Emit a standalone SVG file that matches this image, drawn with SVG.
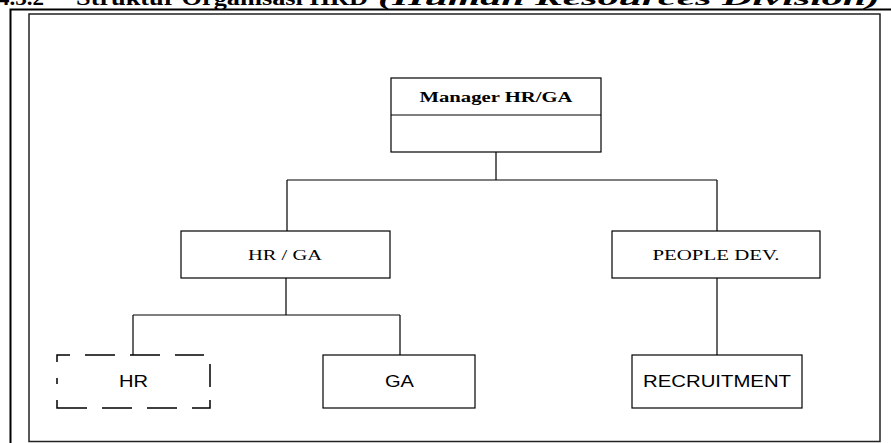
<svg xmlns="http://www.w3.org/2000/svg" width="891" height="443" viewBox="0 0 891 443">
<style>
.box{fill:#fff;stroke:#000;stroke-width:1.2}
.dash{fill:none;stroke:#000;stroke-width:1.5}
.ln{fill:none;stroke:#000;stroke-width:1.2}
.serif{font-family:"Liberation Serif",serif;fill:#000}
.sans{font-family:"Liberation Sans",Arial,sans-serif;fill:#000}
</style>
<rect width="891" height="443" fill="#fff"/>
<text class="serif" x="-2" y="5" font-size="22" font-weight="bold" textLength="46" lengthAdjust="spacingAndGlyphs">4.3.2</text>
<text class="serif" x="76" y="5" font-size="22" font-weight="bold" textLength="292" lengthAdjust="spacingAndGlyphs">Struktur Organisasi HRD</text>
<text class="serif" x="378" y="5" font-size="20" font-weight="bold" font-style="italic" textLength="502" lengthAdjust="spacingAndGlyphs">(Human Resources Division)</text>
<path d="M10.5 443 V9.5 H891" fill="none" stroke="#000" stroke-width="2"/>
<rect x="29" y="14" width="851" height="427.5" fill="none" stroke="#222" stroke-width="1.5"/>
<g id="connectors">
<path class="ln" d="M496 152 V180 M287 180 H717 M287 180 V231 M717 180 V231"/>
<path class="ln" d="M286 278 V315 M133 315 H400 M133 315 V355 M400 315 V355"/>
<path class="ln" d="M717 278 V355"/>
</g>
<g id="manager">
<rect class="box" x="391" y="78" width="210" height="74"/>
<line class="ln" x1="391" y1="115" x2="601" y2="115"/>
<text class="serif" x="496" y="102" font-size="15" font-weight="bold" text-anchor="middle" textLength="153" lengthAdjust="spacingAndGlyphs">Manager HR/GA</text>
</g>
<g id="hrga">
<rect class="box" x="181" y="231" width="209" height="47"/>
<text class="serif" x="285" y="260" font-size="15" text-anchor="middle" textLength="74" lengthAdjust="spacingAndGlyphs">HR / GA</text>
</g>
<g id="peopledev">
<rect class="box" x="612" y="231" width="208" height="47"/>
<text class="serif" x="716" y="260" font-size="15" text-anchor="middle" textLength="127" lengthAdjust="spacingAndGlyphs">PEOPLE DEV.</text>
</g>
<g id="hr">
<path class="dash" d="M57 362 V355 H70 M85 355 H115 M130 355 H160 M175 355 H204 M210 364 V387 M210 400 V408 H192 M177 408 H147 M132 408 H102 M87 408 H57 V400 M57 384 V378"/>
<text class="sans" x="133.5" y="387" font-size="16" text-anchor="middle" textLength="29" lengthAdjust="spacingAndGlyphs">HR</text>
</g>
<g id="ga">
<rect class="box" x="323" y="355" width="152" height="53"/>
<text class="sans" x="399.5" y="387" font-size="16" text-anchor="middle" textLength="29" lengthAdjust="spacingAndGlyphs">GA</text>
</g>
<g id="recruitment">
<rect class="box" x="632" y="355" width="170" height="53"/>
<text class="sans" x="717" y="387" font-size="16" text-anchor="middle" textLength="148" lengthAdjust="spacingAndGlyphs">RECRUITMENT</text>
</g>
</svg>
